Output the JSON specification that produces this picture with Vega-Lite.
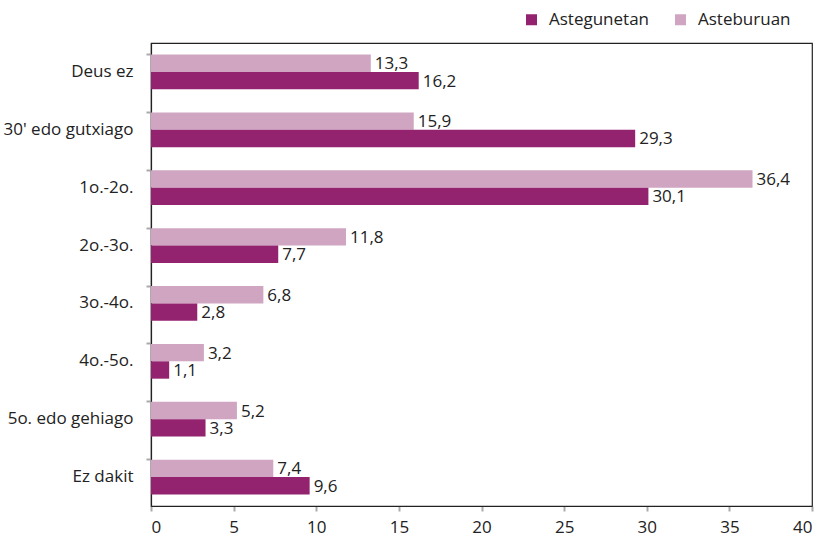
{
  "$schema": "https://vega.github.io/schema/vega-lite/v6.json",
  "autosize": {"type": "none"},
  "width": 661,
  "height": 463,
  "padding": {"left": 151, "top": 43, "right": 7, "bottom": 36},
  "config": {
    "locale": {"number": {"decimal": ",", "thousands": ".", "grouping": [3], "currency": ["", " €"]}},
    "font": "Open Sans",
    "view": {"stroke": "#222222", "strokeWidth": 1.2},
    "axis": {"labelFont": "Open Sans", "labelFontSize": 17, "labelColor": "#222222", "domainColor": "#222222", "tickColor": "#aaaaaa", "tickWidth": 2, "tickSize": 5, "grid": false, "title": null},
    "legend": {"labelFont": "Open Sans", "labelFontSize": 17, "labelColor": "#222222"}
  },
  "data": {"values": [
    {"cat": "Deus ez", "serie": "Asteburuan", "value": 13.3},
    {"cat": "Deus ez", "serie": "Astegunetan", "value": 16.2},
    {"cat": "30' edo gutxiago", "serie": "Asteburuan", "value": 15.9},
    {"cat": "30' edo gutxiago", "serie": "Astegunetan", "value": 29.3},
    {"cat": "1o.-2o.", "serie": "Asteburuan", "value": 36.4},
    {"cat": "1o.-2o.", "serie": "Astegunetan", "value": 30.1},
    {"cat": "2o.-3o.", "serie": "Asteburuan", "value": 11.8},
    {"cat": "2o.-3o.", "serie": "Astegunetan", "value": 7.7},
    {"cat": "3o.-4o.", "serie": "Asteburuan", "value": 6.8},
    {"cat": "3o.-4o.", "serie": "Astegunetan", "value": 2.8},
    {"cat": "4o.-5o.", "serie": "Asteburuan", "value": 3.2},
    {"cat": "4o.-5o.", "serie": "Astegunetan", "value": 1.1},
    {"cat": "5o. edo gehiago", "serie": "Asteburuan", "value": 5.2},
    {"cat": "5o. edo gehiago", "serie": "Astegunetan", "value": 3.3},
    {"cat": "Ez dakit", "serie": "Asteburuan", "value": 7.4},
    {"cat": "Ez dakit", "serie": "Astegunetan", "value": 9.6}
  ]},
  "encoding": {
    "y": {"field": "cat", "type": "nominal", "sort": null,
      "scale": {"paddingInner": 0.4, "paddingOuter": 0.2},
      "axis": {"bandPosition": 0, "labelPadding": 13, "domain": true, "domainWidth": 1.2}},
    "yOffset": {"field": "serie", "sort": ["Asteburuan", "Astegunetan"], "scale": {"paddingInner": 0}},
    "x": {"field": "value", "type": "quantitative",
      "scale": {"domain": [0, 40], "nice": false},
      "axis": {"values": [0, 5, 10, 15, 20, 25, 30, 35, 40], "labelPadding": 8, "domainWidth": 1.2}}
  },
  "layer": [
    {"mark": {"type": "bar"},
      "encoding": {"color": {"field": "serie", "type": "nominal",
        "scale": {"domain": ["Astegunetan", "Asteburuan"], "range": ["#93226f", "#cfa5c1"]},
        "legend": {"title": null, "orient": "none", "direction": "horizontal", "legendX": 372, "legendY": -32,
          "symbolType": "square", "symbolSize": 121, "columnPadding": 22, "labelOffset": 9}}}},
    {"mark": {"type": "text", "align": "left", "baseline": "middle", "dx": 4, "dy": 1, "fontSize": 17, "color": "#222222"},
      "encoding": {"text": {"field": "value", "type": "quantitative", "format": ".1f"}}}
  ]
}
